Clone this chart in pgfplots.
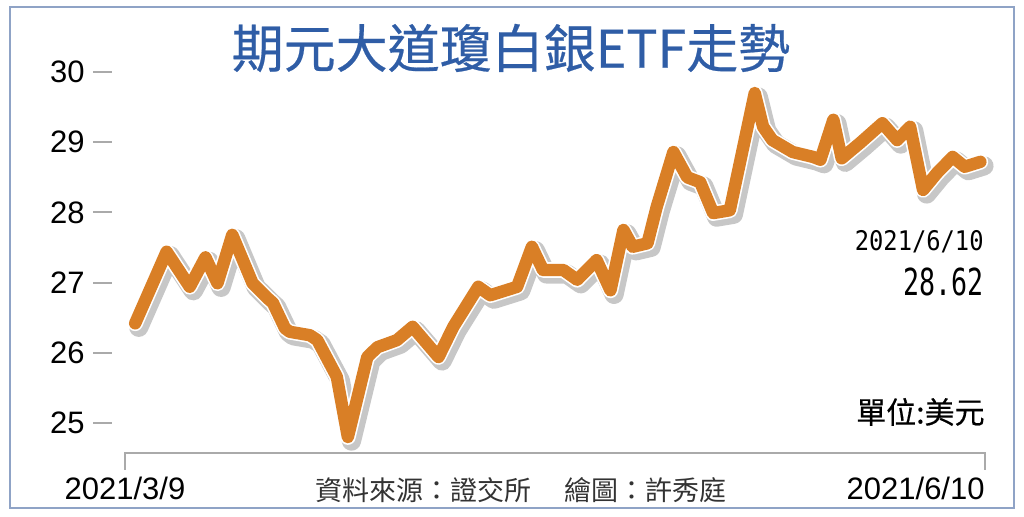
\documentclass[border=0pt]{standalone}
\usepackage{fontspec}
\usepackage{graphicx}
\usepackage{pgfplots}
\usepackage{pgfplotstable}
\pgfplotsset{compat=1.18}
\setmainfont{Liberation Sans}
\newfontfamily\cjk{Noto Sans CJK TC}
\newfontfamily\cjkbold[FakeBold=0.4]{Noto Sans CJK TC}
\newfontfamily\mono{DejaVu Sans Mono}

\definecolor{silverline}{RGB}{217,127,38}
\definecolor{titleblue}{RGB}{47,93,166}
\definecolor{framecol}{RGB}{143,163,198}
\definecolor{axisgray}{RGB}{170,170,170}

% day 0 = 2021/3/9, day 93 = 2021/6/10
\pgfplotstableread{
day price
1.1 26.42
4.5 27.44
7.0 26.94
8.7 27.36
10.0 26.99
11.6 27.68
13.8 26.99
15.4 26.78
16.0 26.71
17.3 26.35
17.8 26.30
20.0 26.25
20.8 26.18
22.9 25.66
24.1 24.80
26.2 25.94
27.3 26.08
29.4 26.18
31.1 26.37
33.9 25.94
35.5 26.37
38.2 26.94
39.5 26.82
42.4 26.94
44.0 27.51
45.2 27.18
47.4 27.18
48.9 27.04
51.0 27.32
52.5 26.89
53.9 27.75
54.9 27.51
56.5 27.56
57.5 28.08
59.3 28.86
60.8 28.50
62.2 28.43
63.6 27.99
65.4 28.03
68.1 29.70
69.0 29.22
70.0 29.03
72.2 28.86
74.4 28.79
75.2 28.75
76.6 29.32
77.5 28.77
79.5 28.99
81.9 29.27
83.5 29.03
84.9 29.22
86.3 28.32
87.8 28.56
89.5 28.79
90.8 28.65
92.5 28.72
}\silver

\begin{document}
\begin{tikzpicture}
\path (0,0) rectangle (512pt,258.5pt);
\draw[framecol, line width=1pt] (5pt,4.5pt) rectangle (507pt,255pt);

\begin{axis}[
  at={(46.5pt,32pt)}, anchor=south west,
  width=446pt, height=190.5pt, scale only axis,
  xmin=-3.46, xmax=93, ymin=24.573, ymax=30,
  axis lines=none, clip=false,
  xtick=\empty, ytick=\empty,
]
% y ticks drawn as short gray dashes, labels left of them
\foreach \v in {25,26,27,28,29,30}{
  \edef\temp{\noexpand\draw[axisgray, line width=1pt] (axis cs:-3.46,\v) -- (axis cs:-1.41,\v);
    \noexpand\node[anchor=east, inner sep=0pt, font=\noexpand\fontsize{15.5}{16}\noexpand\selectfont] at ([xshift=-4pt]axis cs:-3.46,\v) {\v};}
  \temp
}
% x axis line with end ticks
\draw[axisgray, line width=1pt] ([yshift=-8.5pt]axis cs:0,24.573) -- (axis cs:0,24.573) -- (axis cs:93,24.573) -- ([yshift=-8.5pt]axis cs:93,24.573);

\addplot[draw=black, draw opacity=0.22, line width=9.6pt, line join=round, line cap=round, xshift=1.8pt, yshift=-2pt] table[x=day, y=price] {\silver};
\addplot[draw=white, line width=7.8pt, line join=round, line cap=round] table[x=day, y=price] {\silver};
\addplot[draw=silverline, line width=6.2pt, line join=round, line cap=round] table[x=day, y=price] {\silver};
\end{axis}

\node[titleblue, font=\cjkbold\fontsize{26}{28}\selectfont] at (255.5pt,234.5pt) {期元大道瓊白銀ETF走勢};
\node[anchor=east, inner sep=0pt, font=\mono\fontsize{13.5}{14}\selectfont] at (492pt,137.5pt) {\scalebox{0.88}[1]{2021/6/10}};
\node[anchor=east, inner sep=0pt, font=\mono\fontsize{15.5}{17}\selectfont] at (492pt,117.5pt) {\scalebox{0.86}[1.2]{28.62}};
\node[anchor=east, inner sep=0pt, font=\cjkbold\fontsize{15}{16}\selectfont] at (492.5pt,52.5pt) {單位:美元};
\node[inner sep=0pt, font=\fontsize{15.5}{16}\selectfont] at (62.5pt,14.5pt) {2021/3/9};
\node[anchor=east, inner sep=0pt, font=\fontsize{15.5}{16}\selectfont] at (492.5pt,14.5pt) {2021/6/10};
\node[inner sep=0pt, text=black!80, font=\cjk\fontsize{13.5}{14}\selectfont] at (211.5pt,13.5pt) {資料來源：證交所};
\node[inner sep=0pt, text=black!80, font=\cjk\fontsize{13.5}{14}\selectfont] at (322.5pt,13.5pt) {繪圖：許秀庭};
\end{tikzpicture}
\end{document}
